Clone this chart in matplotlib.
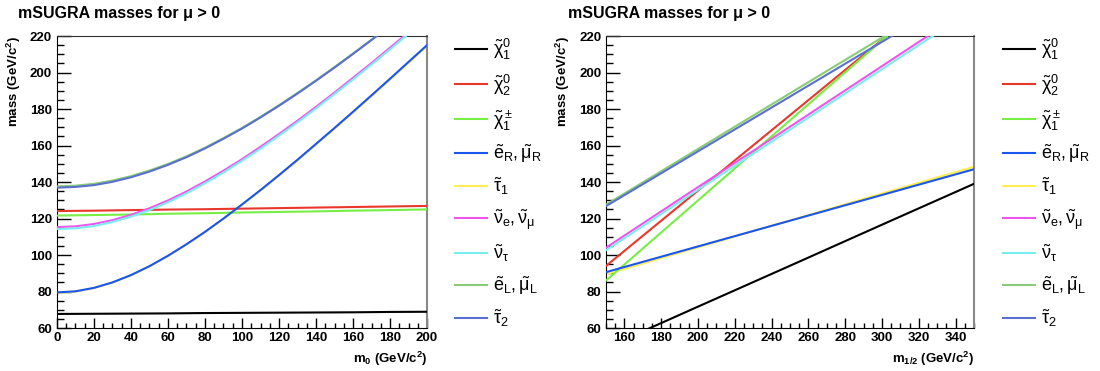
import matplotlib
matplotlib.use("Agg")
import matplotlib.pyplot as plt
from matplotlib.ticker import MultipleLocator

plt.rcParams['font.family'] = ['Liberation Sans', 'DejaVu Sans']
plt.rcParams['mathtext.fontset'] = 'custom'
plt.rcParams['mathtext.rm'] = 'Liberation Sans'
plt.rcParams['mathtext.it'] = 'Liberation Sans'
plt.rcParams['mathtext.bf'] = 'Liberation Sans:bold'

# ---- data: masses vs m0 (left panel) ----
# nearly flat gaugino lines, read every 20 GeV
m0_coarse = [0, 20, 40, 60, 80, 100, 120, 140, 160, 180, 200]
l_chi01 = [67.7, 67.8, 67.9, 68.0, 68.2, 68.3, 68.4, 68.5, 68.6, 68.8, 68.9]
l_chi02 = [124.1, 124.3, 124.6, 124.9, 125.1, 125.4, 125.7, 126.0, 126.3, 126.6, 126.9]
l_chi1pm = [121.6, 121.9, 122.2, 122.6, 122.9, 123.3, 123.6, 123.9, 124.3, 124.6, 125.0]
# curved slepton lines, read every 10 GeV
m0 = [0, 10, 20, 30, 40, 50, 60, 70, 80, 90, 100,
      110, 120, 130, 140, 150, 160, 170, 180, 190, 200]
l_eR = [79.5, 80.1, 82.0, 85.0, 89.0, 93.9, 99.6, 105.9, 112.7, 120.0, 127.7,
        135.6, 143.8, 152.2, 160.9, 169.6, 178.5, 187.5, 196.6, 205.8, 215.0]
l_tau1 = [79.3, 79.9, 81.8, 84.7, 88.7, 93.6, 99.3, 105.6, 112.3, 119.6, 127.3,
          135.2, 143.3, 151.7, 160.4, 169.1, 178.0, 187.0, 196.0, 205.2, 214.4]
l_snue = [115.3, 115.7, 117.0, 119.1, 122.0, 125.6, 129.9, 134.8, 140.3, 146.2, 152.5,
          159.3, 166.3, 173.6, 181.2, 189.0, 197.1, 205.2, 213.6, 222.0, 230.6]
l_snutau = [114.2, 114.6, 115.9, 118.1, 121.0, 124.6, 128.9, 133.8, 139.3, 145.2, 151.6,
            158.3, 165.4, 172.7, 180.3, 188.2, 196.2, 204.4, 212.7, 221.2, 229.8]
l_eL = [137.6, 138.0, 139.0, 140.8, 143.2, 146.3, 149.9, 154.1, 158.8, 164.1, 169.6,
        175.7, 182.1, 188.8, 195.7, 203.0, 210.4, 218.0, 225.8, 233.8, 242.0]
l_tau2 = [136.9, 137.3, 138.3, 140.1, 142.6, 145.7, 149.4, 153.6, 158.4, 163.7, 169.3,
          175.4, 181.8, 188.5, 195.5, 202.7, 210.2, 217.8, 225.6, 233.6, 241.8]

# ---- data: masses vs m1/2 (right panel) ----
m12 = [150, 200, 250, 300, 350]
r_chi01 = [49.2, 71.7, 94.1, 116.6, 139.0]
r_chi02 = [94.0, 135.3, 176.6, 217.9, 259.0]
r_chi1pm = [86.0, 129.9, 173.8, 217.6, 261.5]
r_eR = [90.6, 104.7, 118.8, 132.9, 147.0]
r_tau1 = [89.4, 104.2, 118.9, 133.7, 148.4]
r_snue = [104.0, 137.2, 170.3, 203.5, 236.6]
r_snutau = [102.6, 135.7, 168.7, 201.8, 234.8]
r_eL = [127.6, 158.1, 188.6, 219.1, 249.6]
r_tau2 = [126.8, 156.8, 186.8, 216.8, 246.8]

labels = [r'$\tilde{\chi}^0_1$', r'$\tilde{\chi}^0_2$', r'$\tilde{\chi}^\pm_1$',
          r'$\tilde{e}_R, \tilde{\mu}_R$', r'$\tilde{\tau}_1$',
          r'$\tilde{\nu}_e, \tilde{\nu}_\mu$', r'$\tilde{\nu}_\tau$',
          r'$\tilde{e}_L, \tilde{\mu}_L$', r'$\tilde{\tau}_2$']
colors = ['#000000', '#e8372b', '#77ee44', '#1a55ee', '#ffee55',
          '#ee55ee', '#77eeee', '#88cc77', '#5a6fd0']
# yellow stau1 sits under the blue selectron line
zorders = [3, 3, 3, 4, 2, 3, 3, 3, 3]

left_x = [m0_coarse, m0_coarse, m0_coarse, m0, m0, m0, m0, m0, m0]
left_series = [l_chi01, l_chi02, l_chi1pm, l_eR, l_tau1, l_snue, l_snutau, l_eL, l_tau2]
right_series = [r_chi01, r_chi02, r_chi1pm, r_eR, r_tau1, r_snue, r_snutau, r_eL, r_tau2]

fig = plt.figure(figsize=(11, 3.71), dpi=100)
axL = fig.add_axes([0.0518, 0.1159, 0.3364, 0.787])
axR = fig.add_axes([0.5509, 0.1159, 0.3345, 0.787])


def style_axes(ax, xlabel, xlim, xmajor):
    ax.set_xlim(*xlim)
    ax.set_ylim(60, 220)
    ax.xaxis.set_major_locator(MultipleLocator(xmajor))
    ax.xaxis.set_minor_locator(MultipleLocator(5))
    ax.yaxis.set_major_locator(MultipleLocator(20))
    ax.yaxis.set_minor_locator(MultipleLocator(5))
    ax.tick_params(axis='y', which='major', direction='in', length=10, width=1, labelsize=9.5)
    ax.tick_params(axis='y', which='minor', direction='in', length=5, width=1)
    ax.tick_params(axis='x', which='major', direction='in', length=7, width=1, labelsize=9.5, pad=3)
    ax.tick_params(axis='x', which='minor', direction='in', length=3.5, width=1)
    for lab in ax.get_xticklabels() + ax.get_yticklabels():
        lab.set_fontweight('bold')
    ax.spines['right'].set_color('#888888')
    ax.spines['right'].set_linewidth(1.5)
    ax.spines['top'].set_color('#333333')
    ax.set_ylabel(r'mass (GeV/c$^\mathbf{2}$)', fontsize=9.5, fontweight='bold', loc='top')
    ax.yaxis.set_label_coords(-0.092, 1.0)
    ax.set_xlabel(xlabel, fontsize=9.5, fontweight='bold', loc='right')


for xs, ys, c, lab, z in zip(left_x, left_series, colors, labels, zorders):
    axL.plot(xs, ys, color=c, lw=1.5, label=lab, zorder=z)
for ys, c, lab, z in zip(right_series, colors, labels, zorders):
    axR.plot(m12, ys, color=c, lw=1.5, label=lab, zorder=z)

style_axes(axL, r'm$_\mathbf{0}$ (GeV/c$^\mathbf{2}$)', (0, 200), 20)
style_axes(axR, r'm$_\mathbf{1/2}$ (GeV/c$^\mathbf{2}$)', (150, 350), 20)
axR.set_xticks([160, 180, 200, 220, 240, 260, 280, 300, 320, 340])

for ax, x0 in [(axL, 0.414), (axR, 0.912)]:
    ax.legend(loc='upper left', bbox_to_anchor=(x0, 0.90), bbox_transform=fig.transFigure,
              frameon=False, fontsize=13, handlelength=1.75, handletextpad=0.35,
              labelspacing=0.58, borderaxespad=0, borderpad=0)

fig.text(0.0164, 0.985, u'mSUGRA masses for \u03bc > 0', fontsize=11.5, fontweight='bold', va='top')
fig.text(0.5164, 0.985, u'mSUGRA masses for \u03bc > 0', fontsize=11.5, fontweight='bold', va='top')

fig.savefig('out.png', dpi=100)
